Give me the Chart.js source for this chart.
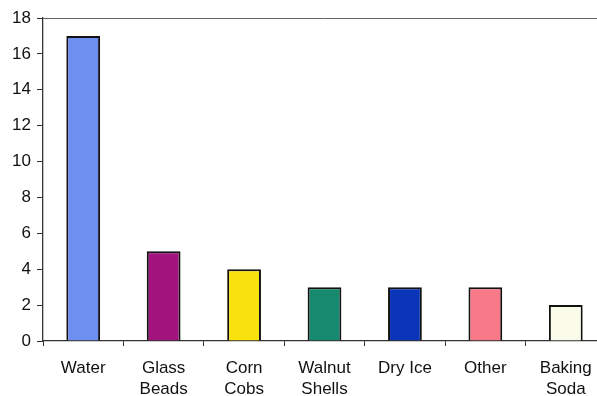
<!DOCTYPE html>
<html><head><meta charset="utf-8">
<script src="https://cdn.jsdelivr.net/npm/chart.js@4/dist/chart.umd.min.js"></script>
<style>
html,body{margin:0;padding:0;background:#fff;overflow:hidden;}
#wrap{width:606px;height:396px;position:relative;}
</style></head><body>
<div id="wrap"><canvas id="c"></canvas></div>
<script>
const categories = [["Water"], ["Glass", "Beads"], ["Corn", "Cobs"], ["Walnut", "Shells"], ["Dry Ice"], ["Other"], ["Baking", "Soda"]];
const values = [17, 5, 4, 3, 3, 3, 2];
const barColors = ["#6f8ff0", "#a3147e", "#f7e20e", "#168a6e", "#0b35b8", "#f87a89", "#fbfbe9"];
const yTicks = [0, 2, 4, 6, 8, 10, 12, 14, 16, 18];

new Chart(document.getElementById('c'), {
  type: 'bar',
  data: {
    labels: categories,
    datasets: [{
      data: values,
      backgroundColor: barColors,
      borderColor: '#111',
      borderWidth: 2,
      categoryPercentage: 1,
      barPercentage: 0.42
    }]
  },
  options: {
    responsive: true,
    maintainAspectRatio: false,
    animation: false,
    layout: { padding: { top: 18, left: 0, right: 0, bottom: 0 } },
    plugins: { legend: { display: false }, tooltip: { enabled: false } },
    scales: {
      x: {
        grid: { offset: true, drawOnChartArea: false, tickLength: 5, color: '#333', tickColor: '#333' },
        border: { color: '#333', width: 1.3 },
        ticks: { color: '#111', font: { family: 'Liberation Sans', size: 17, lineHeight: 1.24 }, padding: 12, maxRotation: 0, autoSkip: false },
        afterFit: s => { s.height = 55; }
      },
      y: {
        min: 0, max: 18,
        afterBuildTicks: s => { s.ticks = yTicks.map(v => ({ value: v })); },
        grid: {
          drawOnChartArea: true, tickLength: 6,
          color: ctx => (ctx.tick && ctx.tick.value === 18) ? '#666' : 'rgba(0,0,0,0)',
          tickColor: '#333'
        },
        border: { color: '#333', width: 1.3 },
        ticks: { color: '#111', font: { family: 'Liberation Sans', size: 17 }, padding: 6 },
        afterFit: s => { s.width = 43; }
      }
    }
  }
});
</script>
</body></html>
